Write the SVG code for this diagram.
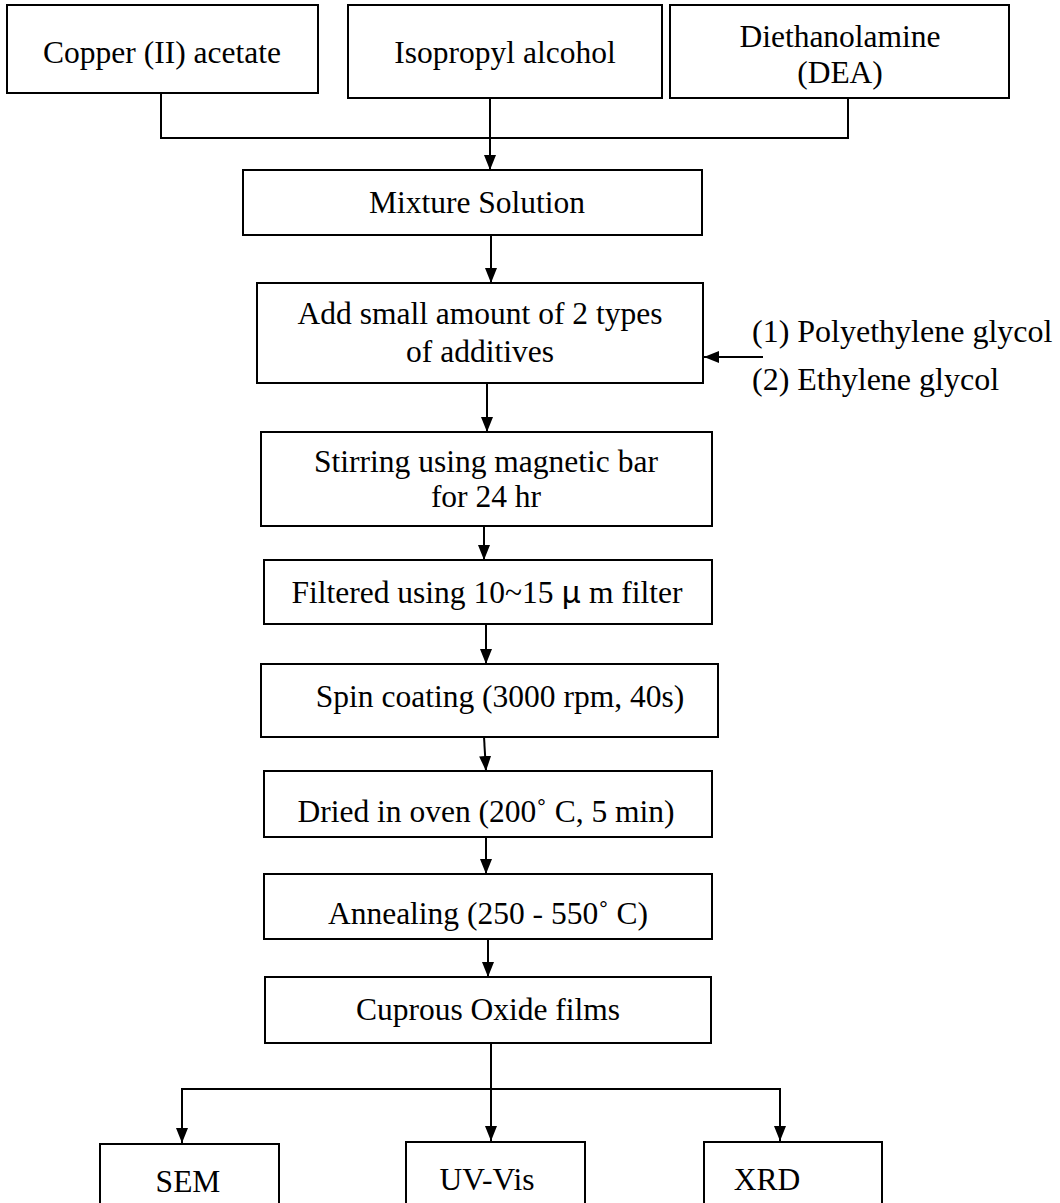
<svg xmlns="http://www.w3.org/2000/svg" width="1060" height="1203" viewBox="0 0 1060 1203">
<defs>
<style>
.box{fill:#fff;stroke:#000;stroke-width:2}
.t{font-family:"Liberation Serif","Times New Roman",serif;font-size:31.5px;fill:#000;text-anchor:middle}
.s{font-family:"Liberation Serif","Times New Roman",serif;font-size:32px;fill:#000}
.mu{font-family:"Noto Sans CJK SC","Noto Sans",sans-serif}
.c{fill:none;stroke:#000;stroke-width:2}
</style>
<marker id="ah" viewBox="0 0 15 12" refX="15" refY="6" markerWidth="15" markerHeight="12" markerUnits="userSpaceOnUse" orient="auto"><path d="M0,0 L15,6 L0,12 z" fill="#000"/></marker>
</defs>
<rect width="1060" height="1203" fill="#fff"/>
<g id="connectors">
<path class="c" d="M161,93 V138 H848 V98"/>
<path class="c" d="M490,98 V170" marker-end="url(#ah)"/>
<path class="c" d="M491,235 V283" marker-end="url(#ah)"/>
<path class="c" d="M487,383 V432" marker-end="url(#ah)"/>
<path class="c" d="M484,526 V560" marker-end="url(#ah)"/>
<path class="c" d="M486,624 V664" marker-end="url(#ah)"/>
<path class="c" d="M484,737 L486,771" marker-end="url(#ah)"/>
<path class="c" d="M486,837 V874" marker-end="url(#ah)"/>
<path class="c" d="M488,939 V977" marker-end="url(#ah)"/>
<path class="c" d="M491,1043 V1141" marker-end="url(#ah)"/>
<path class="c" d="M182,1142 V1089 H780 V1141" marker-end="url(#ah)"/>
<path class="c" d="M182,1089 V1143" marker-end="url(#ah)"/>
<path class="c" d="M763,357 H704" marker-end="url(#ah)"/>
</g>
<g id="copper"><rect class="box" x="7" y="5" width="311" height="88"/><text class="t" x="162" y="63">Copper (II) acetate</text></g>
<g id="isopropyl"><rect class="box" x="348" y="5" width="314" height="93"/><text class="t" x="505" y="63">Isopropyl alcohol</text></g>
<g id="dea"><rect class="box" x="670" y="5" width="339" height="93"/><text class="t" x="840" y="47">Diethanolamine</text><text class="t" x="840" y="83">(DEA)</text></g>
<g id="mixture"><rect class="box" x="243" y="170" width="459" height="65"/><text class="t" x="477" y="213">Mixture Solution</text></g>
<g id="add"><rect class="box" x="257" y="283" width="446" height="100"/><text class="t" x="480" y="324">Add small amount of 2 types</text><text class="t" x="480" y="362">of additives</text></g>
<g id="additives"><text class="s" x="752" y="342">(1) Polyethylene glycol</text><text class="s" x="752" y="390">(2) Ethylene glycol</text></g>
<g id="stirring"><rect class="box" x="261" y="432" width="451" height="94"/><text class="t" x="486" y="472">Stirring using magnetic bar</text><text class="t" x="486" y="507">for 24 hr</text></g>
<g id="filtered"><rect class="box" x="264" y="560" width="448" height="64"/><text class="t" x="487" y="603">Filtered using 10~15 <tspan class="mu">μ</tspan> m filter</text></g>
<g id="spin"><rect class="box" x="261" y="664" width="457" height="73"/><text class="t" x="500" y="707">Spin coating (3000 rpm, 40s)</text></g>
<g id="dried"><rect class="box" x="264" y="771" width="448" height="66"/><text class="t" x="486" y="822">Dried in oven (200˚ C, 5 min)</text></g>
<g id="annealing"><rect class="box" x="264" y="874" width="448" height="65"/><text class="t" x="488" y="924">Annealing (250 - 550˚ C)</text></g>
<g id="cuprous"><rect class="box" x="265" y="977" width="446" height="66"/><text class="t" x="488" y="1020">Cuprous Oxide films</text></g>
<g id="sem"><rect class="box" x="100" y="1144" width="179" height="70"/><text class="t" x="188" y="1192">SEM</text></g>
<g id="uvvis"><rect class="box" x="406" y="1142" width="179" height="72"/><text class="t" x="487" y="1190">UV-Vis</text></g>
<g id="xrd"><rect class="box" x="704" y="1142" width="178" height="72"/><text class="t" x="767" y="1190">XRD</text></g>
</svg>
